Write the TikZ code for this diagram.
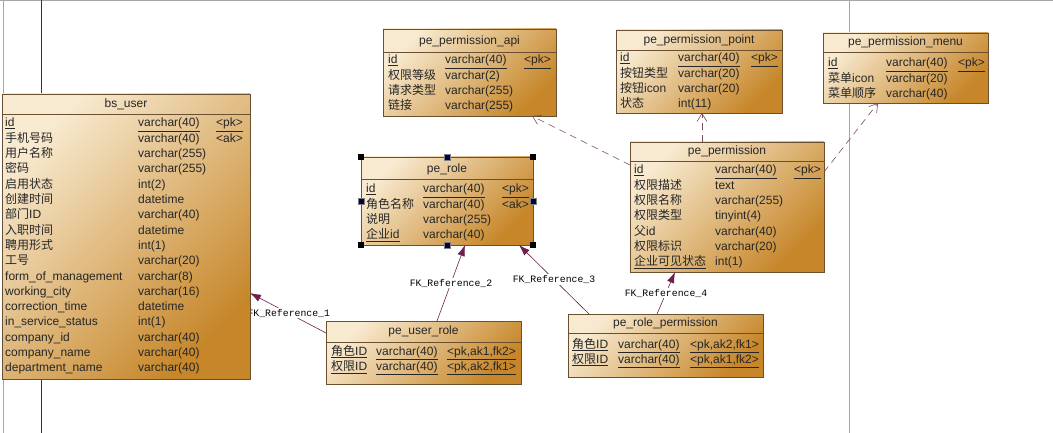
\documentclass[tikz,border=0pt]{standalone}
\usepackage{fontspec}
\setmainfont{Liberation Sans}
\newfontfamily\cjkf{Noto Sans CJK SC}
\newfontfamily\lblf{Liberation Mono}
\usetikzlibrary{arrows.meta,calc}
\newcommand\zh[1]{{\cjkf #1}}
\newcommand\setcols[3]{\gdef\cxn{#1}\gdef\cxt{#2}\gdef\cxk{#3}}
\newcommand\tabrowk[6]{\node[cell] (#1n#2) at (\cxn,#3) {#4};\node[cell] (#1t#2) at (\cxt,#3) {#5};\node[cell] (#1k#2) at (\cxk,#3) {#6};}
\newcommand\tabrow[5]{\node[cell] (#1n#2) at (\cxn,#3) {#4};\node[cell] (#1t#2) at (\cxt,#3) {#5};}
\definecolor{tlight}{HTML}{F8EAD0}
\definecolor{tdark}{HTML}{C68629}
\definecolor{tborder}{HTML}{6A5030}
\definecolor{fkc}{HTML}{6E1F4C}
\definecolor{dashc}{HTML}{7A4A66}
\begin{document}
\begin{tikzpicture}[x=1pt,y=-1pt,
  tbl/.style={draw=tborder, line width=0.7pt, top color=tlight, bottom color=tdark, shading angle=45, anchor=north west, inner sep=0pt, outer sep=0pt},
  ttl/.style={font=\fontsize{12}{14}\selectfont, text=black!85, inner sep=0pt},
  cell/.style={anchor=base west, inner sep=0pt, font=\fontsize{12}{14}\selectfont, text=black!85},
  sep/.style={draw=tborder, line width=0.6pt},
  fk/.style={draw=fkc, line width=0.6pt, -{Latex[length=11pt,width=7.5pt]}},
  lbl/.style={fill=white, inner sep=1pt, font=\lblf\fontsize{9.8}{11}\selectfont, text=black},
  inh/.style={draw=dashc, line width=0.6pt, dash pattern=on 7pt off 5pt, -{Straight Barb[length=8pt,width=10pt]}},
  frame/.style={draw=gray!70, line width=0.8pt}]
\useasboundingbox (0,0) rectangle (1053,433);
\fill[white] (0,0) rectangle (1053,433);
% window frame lines
\draw[frame] (0,0.5) -- (1053,0.5);
\draw[frame] (3.5,0) -- (3.5,433);
\draw[black!80, line width=0.8pt] (41.5,0) -- (41.5,433);
\draw[frame] (849,0) -- (849,433);
% tables (boxes)
\node[tbl, minimum width=172pt, minimum height=88pt] (role) at (361,157) {};
\node[tbl, minimum width=173pt, minimum height=87pt] (api) at (383,29) {};
\node[tbl, minimum width=166pt, minimum height=83pt] (point) at (616,30) {};
\node[tbl, minimum width=165pt, minimum height=70pt] (menu) at (823,33) {};
\node[tbl, minimum width=194pt, minimum height=130pt] (perm) at (630,142) {};
\node[tbl, minimum width=195pt, minimum height=63pt] (ur) at (326,321) {};
\node[tbl, minimum width=195pt, minimum height=63pt] (rp) at (568,314) {};
\coordinate (bsue) at (250,293);
% connectors
\draw[fk] (ur.west |- 0,333) -- node[lbl, pos=0.49] (l1) {FK\_Reference\_1} (bsue);
\draw[fk] (437,0 |- ur.north) -- node[lbl] (l2) {FK\_Reference\_2} (465,0 |- role.south);
\draw[fk] (589,0 |- rp.north) -- node[lbl] (l3) {FK\_Reference\_3} (519,0 |- role.south);
\draw[fk] (657,0 |- rp.north) -- node[lbl] (l4) {FK\_Reference\_4} (675,0 |- perm.south);
\draw[inh] (perm.west |- 0,165) -- (532,0 |- api.south);
\draw[inh] (702,0 |- perm.north) -- (702,0 |- point.south);
\draw[inh] (perm.east |- 0,172) -- (878,0 |- menu.south);
% bs_user box drawn over the start of label 1
\node[tbl, minimum width=248pt, minimum height=285pt] (bsu) at (2,94) {};
% titles and separators
\node[ttl] (bsut) at (126,104) {bs\_user};
\draw[sep] (bsu.west |- 0,114) -- (bsu.east |- 0,114);
\node[ttl] (rolet) at (447,169) {pe\_role};
\draw[sep] (role.west |- 0,179) -- (role.east |- 0,179);
\node[ttl] (apit) at (469.5,41) {pe\_permission\_api};
\draw[sep] (api.west |- 0,52) -- (api.east |- 0,52);
\node[ttl] (pointt) at (699,40) {pe\_permission\_point};
\draw[sep] (point.west |- 0,50) -- (point.east |- 0,50);
\node[ttl] (menut) at (905.5,42) {pe\_permission\_menu};
\draw[sep] (menu.west |- 0,52) -- (menu.east |- 0,52);
\node[ttl] (permt) at (727,151) {pe\_permission};
\draw[sep] (perm.west |- 0,161) -- (perm.east |- 0,161);
\node[ttl] (urt) at (423.5,331) {pe\_user\_role};
\draw[sep] (ur.west |- 0,342) -- (ur.east |- 0,342);
\node[ttl] (rpt) at (665.5,323.5) {pe\_role\_permission};
\draw[sep] (rp.west |- 0,333) -- (rp.east |- 0,333);
% bs_user rows
\setcols{5}{138}{216}
\tabrowk{u}{1}{127}{\underline{id}}{\underline{varchar(40)}}{\underline{<pk>}}
\tabrowk{u}{2}{142.3}{\zh{手机号码}}{varchar(40)}{<ak>}
\tabrow{u}{3}{157.6}{\zh{用户名称}}{varchar(255)}
\tabrow{u}{4}{172.9}{\zh{密码}}{varchar(255)}
\tabrow{u}{5}{188.2}{\zh{启用状态}}{int(2)}
\tabrow{u}{6}{203.5}{\zh{创建时间}}{datetime}
\tabrow{u}{7}{218.8}{\zh{部门}ID}{varchar(40)}
\tabrow{u}{8}{234.1}{\zh{入职时间}}{datetime}
\tabrow{u}{9}{249.4}{\zh{聘用形式}}{int(1)}
\tabrow{u}{10}{264.7}{\zh{工号}}{varchar(20)}
\tabrow{u}{11}{280}{form\_of\_management}{varchar(8)}
\tabrow{u}{12}{295.3}{working\_city}{varchar(16)}
\tabrow{u}{13}{310.6}{correction\_time}{datetime}
\tabrow{u}{14}{325.9}{in\_service\_status}{int(1)}
\tabrow{u}{15}{341.2}{company\_id}{varchar(40)}
\tabrow{u}{16}{356.5}{company\_name}{varchar(40)}
\tabrow{u}{17}{371.8}{department\_name}{varchar(40)}
% pe_role rows
\setcols{366}{423}{502}
\tabrowk{r}{1}{193}{\underline{id}}{\underline{varchar(40)}}{\underline{<pk>}}
\tabrowk{r}{2}{208.3}{\zh{角色名称}}{varchar(40)}{<ak>}
\tabrow{r}{3}{223.6}{\zh{说明}}{varchar(255)}
\tabrow{r}{4}{239}{\underline{\zh{企业}id}}{varchar(40)}
% api rows
\setcols{388}{445}{524}
\tabrowk{a}{1}{64}{\underline{id}}{\underline{varchar(40)}}{\underline{<pk>}}
\tabrow{a}{2}{79.3}{\zh{权限等级}}{varchar(2)}
\tabrow{a}{3}{94.6}{\zh{请求类型}}{varchar(255)}
\tabrow{a}{4}{110}{\zh{链接}}{varchar(255)}
% point rows
\setcols{620}{678}{751}
\tabrowk{p}{1}{62}{\underline{id}}{\underline{varchar(40)}}{\underline{<pk>}}
\tabrow{p}{2}{77.3}{\zh{按钮类型}}{varchar(20)}
\tabrow{p}{3}{92.6}{\zh{按钮}icon}{varchar(20)}
\tabrow{p}{4}{108}{\zh{状态}}{int(11)}
% menu rows
\setcols{828}{886}{958}
\tabrowk{m}{1}{67}{\underline{id}}{\underline{varchar(40)}}{\underline{<pk>}}
\tabrow{m}{2}{82.3}{\zh{菜单}icon}{varchar(20)}
\tabrow{m}{3}{97.6}{\zh{菜单顺序}}{varchar(40)}
% permission rows
\setcols{634}{715}{794}
\tabrowk{e}{1}{174}{\underline{id}}{\underline{varchar(40)}}{\underline{<pk>}}
\tabrow{e}{2}{189.3}{\zh{权限描述}}{text}
\tabrow{e}{3}{204.6}{\zh{权限名称}}{varchar(255)}
\tabrow{e}{4}{219.9}{\zh{权限类型}}{tinyint(4)}
\tabrow{e}{5}{235.2}{\zh{父}id}{varchar(40)}
\tabrow{e}{6}{250.5}{\zh{权限标识}}{varchar(20)}
\tabrow{e}{7}{265.8}{\underline{\zh{企业可见状态}}}{int(1)}
% user_role rows
\setcols{331}{376}{447}
\tabrowk{ur}{1}{355}{\underline{\zh{角色}ID}}{\underline{varchar(40)}}{\underline{<pk,ak1,fk2>}}
\tabrowk{ur}{2}{370.5}{\underline{\zh{权限}ID}}{\underline{varchar(40)}}{\underline{<pk,ak2,fk1>}}
% role_permission rows
\setcols{572}{618}{690}
\tabrowk{rp}{1}{348}{\underline{\zh{角色}ID}}{\underline{varchar(40)}}{\underline{<pk,ak2,fk1>}}
\tabrowk{rp}{2}{363}{\underline{\zh{权限}ID}}{\underline{varchar(40)}}{\underline{<pk,ak1,fk2>}}
% selection handles on pe_role
\foreach \a in {north west, north east, south west, south east}
  \fill[black] ($(role.\a)+(-3,-3)$) rectangle ++(6,6);
\foreach \a in {north, south, west, east}
  \filldraw[fill=black!75!blue, draw=gray] ($(role.\a)+(-3,-3)$) rectangle ++(6,6);
\end{tikzpicture}
\end{document}
